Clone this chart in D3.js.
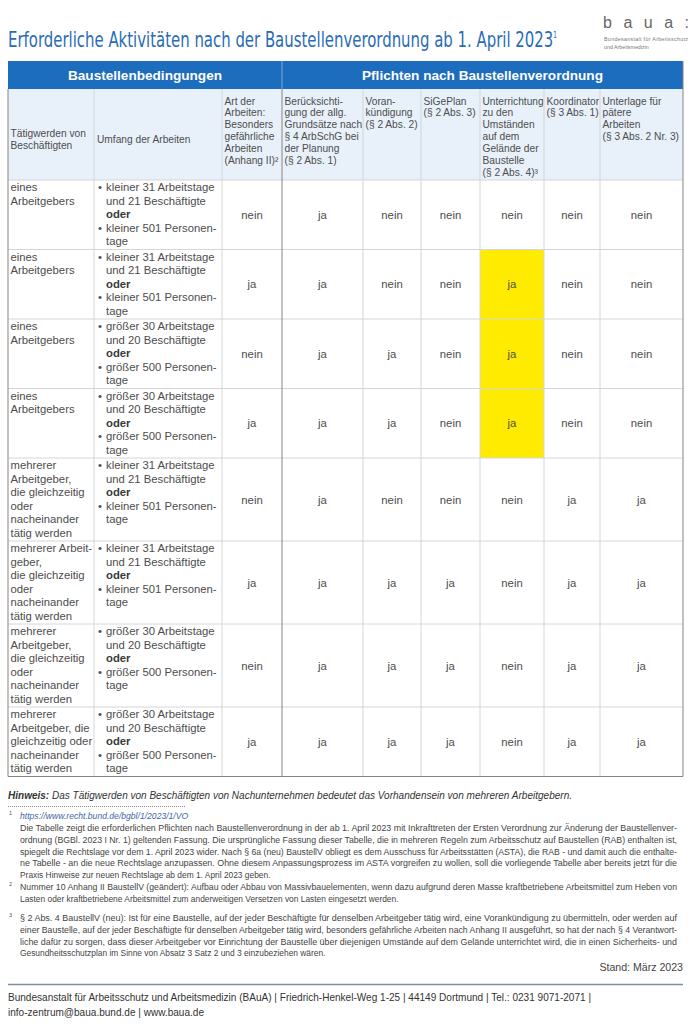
<!DOCTYPE html>
<html><head><meta charset="utf-8">
<script src="https://cdn.jsdelivr.net/npm/d3@7"></script>
<style>body{margin:0;background:#fff}svg{display:block}text{font-family:"Liberation Sans",Arial,sans-serif}</style>
</head><body><svg id="c" width="698" height="1024"></svg>
<script>
// ---------------- DATA ----------------
const title = "Erforderliche Aktivitäten nach der Baustellenverordnung ab 1. April 2023";
const groupHeaders = ["Baustellenbedingungen", "Pflichten nach Baustellenverordnung"];
const columnHeaders = [
  ["Tätigwerden von", "Beschäftigten"],
  ["Umfang der Arbeiten"],
  ["Art der", "Arbeiten:", "Besonders", "gefährliche", "Arbeiten", "(Anhang II)²"],
  ["Berücksichti-", "gung der allg.", "Grundsätze nach", "§ 4 ArbSchG bei", "der Planung", "(§ 2 Abs. 1)"],
  ["Voran-", "kündigung", "(§ 2 Abs. 2)"],
  ["SiGePlan", "(§ 2 Abs. 3)"],
  ["Unterrichtung", "zu den", "Umständen", "auf dem", "Gelände der", "Baustelle", "(§ 2 Abs. 4)³"],
  ["Koordinator", "(§ 3 Abs. 1)"],
  ["Unterlage für", "pätere", "Arbeiten", "(§ 3 Abs. 2 Nr. 3)"]
];
const taetigwerden = [
  ["eines", "Arbeitgebers"],
  ["eines", "Arbeitgebers"],
  ["eines", "Arbeitgebers"],
  ["eines", "Arbeitgebers"],
  ["mehrerer", "Arbeitgeber,", "die gleichzeitig", "oder", "nacheinander", "tätig werden"],
  ["mehrerer Arbeit-", "geber,", "die gleichzeitig", "oder", "nacheinander", "tätig werden"],
  ["mehrerer", "Arbeitgeber,", "die gleichzeitig", "oder", "nacheinander", "tätig werden"],
  ["mehrerer", "Arbeitgeber, die", "gleichzeitig oder", "nacheinander", "tätig werden"]
];
const umfang = ["klein", "klein", "groß", "groß", "klein", "klein", "groß", "groß"];
const umfangKlein = ["• kleiner 31 Arbeitstage", "und 21 Beschäftigte", "oder", "• kleiner 501 Personen-", "tage"];
const umfangGross = ["• größer 30 Arbeitstage", "und 20 Beschäftigte", "oder", "• größer 500 Personen-", "tage"];
const artGefaehrlich     = ["nein", "ja", "nein", "ja", "nein", "ja", "nein", "ja"];
const beruecksichtigung  = ["ja", "ja", "ja", "ja", "ja", "ja", "ja", "ja"];
const vorankuendigung    = ["nein", "nein", "ja", "ja", "nein", "ja", "ja", "ja"];
const sigeplan           = ["nein", "nein", "nein", "nein", "nein", "ja", "ja", "ja"];
const unterrichtung      = ["nein", "ja", "ja", "ja", "nein", "nein", "nein", "nein"];
const koordinator        = ["nein", "nein", "nein", "nein", "ja", "ja", "ja", "ja"];
const unterlage          = ["nein", "nein", "nein", "nein", "ja", "ja", "ja", "ja"];
const highlightedColumn = 6; // "Unterrichtung": new obligations marked in yellow

const hinweisBold = "Hinweis:";
const hinweisText = " Das Tätigwerden von Beschäftigten von Nachunternehmen bedeutet das Vorhandensein von mehreren Arbeitgebern.";
const fn1Link = "https://www.recht.bund.de/bgbl/1/2023/1/VO";
const fn1Lines = [
  "Die Tabelle zeigt die erforderlichen Pflichten nach Baustellenverordnung in der ab 1. April 2023 mit Inkrafttreten der Ersten Verordnung zur Änderung der Baustellenver-",
  "ordnung (BGBl. 2023 I Nr. 1) geltenden Fassung. Die ursprüngliche Fassung dieser Tabelle, die in mehreren Regeln zum Arbeitsschutz auf Baustellen (RAB) enthalten ist,",
  "spiegelt die Rechtslage vor dem 1. April 2023 wider. Nach § 6a (neu) BaustellV obliegt es dem Ausschuss für Arbeitsstätten (ASTA), die RAB - und damit auch die enthalte-",
  "ne Tabelle - an die neue Rechtslage anzupassen. Ohne diesem Anpassungsprozess im ASTA vorgreifen zu wollen, soll die vorliegende Tabelle aber bereits jetzt für die",
  "Praxis Hinweise zur neuen Rechtslage ab dem 1. April 2023 geben."
];
const fn2Lines = [
  "Nummer 10 Anhang II BaustellV (geändert): Aufbau oder Abbau von Massivbauelementen, wenn dazu aufgrund deren Masse kraftbetriebene Arbeitsmittel zum Heben von",
  "Lasten oder kraftbetriebene Arbeitsmittel zum anderweitigen Versetzen von Lasten eingesetzt werden."
];
const fn3Lines = [
  "§ 2 Abs. 4 BaustellV (neu): Ist für eine Baustelle, auf der jeder Beschäftigte für denselben Arbeitgeber tätig wird, eine Vorankündigung zu übermitteln, oder werden auf",
  "einer Baustelle, auf der jeder Beschäftigte für denselben Arbeitgeber  tätig wird, besonders gefährliche Arbeiten nach Anhang II ausgeführt, so hat der nach § 4 Verantwort-",
  "liche dafür zu sorgen, dass dieser Arbeitgeber vor Einrichtung der Baustelle über diejenigen Umstände auf dem Gelände unterrichtet wird, die in einen Sicherheits- und",
  "Gesundheitsschutzplan im Sinne von Absatz 3 Satz 2 und 3 einzubeziehen wären."
];
const stand = "Stand: März 2023";
const footerLines = [
  "Bundesanstalt für Arbeitsschutz und Arbeitsmedizin (BAuA) | Friedrich-Henkel-Weg 1-25 | 44149 Dortmund | Tel.: 0231 9071-2071 |",
  "info-zentrum@baua.bund.de | www.baua.de"
];

// ---------------- LAYOUT ----------------
const svg = d3.select("#c");
const BLUE = "#1d6dbe", TXT = "#4d4d4d", GRID = "#d3d6d9", STRONG = "#858585";
const colEdges = [8, 94, 222, 282, 363, 421, 480, 544, 600, 683];
const colIdx = d3.range(columnHeaders.length);
const xL = d3.scaleOrdinal().domain(colIdx).range(colEdges.slice(0, -1));
const xR = d3.scaleOrdinal().domain(colIdx).range(colEdges.slice(1));
const bandTop = 61, bandBot = 89, headBot = 180;
const LH = 13.5, BODY_FS = 11.3, HEAD_FS = 10.2, HEAD_LH = 11.9;

const valueCols = [artGefaehrlich, beruecksichtigung, vorankuendigung, sigeplan, unterrichtung, koordinator, unterlage];
const rows = taetigwerden.map((t, i) => ({
  i, taet: t,
  umf: umfang[i] === "klein" ? umfangKlein : umfangGross,
  vals: valueCols.map(c => c[i])
}));
rows.forEach(r => r.lines = Math.max(r.taet.length, r.umf.length));
const rowHeights = rows.map(r => r.lines * LH + 2);
const rowTops = rowHeights.reduce((a, h) => (a.push(a[a.length - 1] + h), a), [headBot]);
const yT = d3.scaleOrdinal().domain(rows.map(r => r.i)).range(rowTops.slice(0, -1));
const yB = d3.scaleOrdinal().domain(rows.map(r => r.i)).range(rowTops.slice(1));
const tableBot = rowTops[rowTops.length - 1];

// ---------------- TITLE & LOGO ----------------
const tt = svg.append("text").attr("x", 8).attr("y", 47).attr("fill", "#2a6cb6")
  .style("font-family", "'Liberation Sans Narrow','DejaVu Sans Condensed',sans-serif")
  .style("font-size", "20.5px").attr("textLength", 549).attr("lengthAdjust", "spacingAndGlyphs");
tt.append("tspan").text(title);
tt.append("tspan").attr("dy", -9).style("font-size", "8px").text("1");

svg.append("text").attr("x", 603).attr("y", 28).attr("fill", "#666")
  .style("font-size", "16px").attr("textLength", 86).attr("lengthAdjust", "spacing").text("baua:");
svg.append("text").attr("x", 604).attr("y", 41).attr("fill", "#777").style("font-size", "5.3px")
  .attr("textLength", 84).text("Bundesanstalt für Arbeitsschutz");
svg.append("text").attr("x", 604).attr("y", 48.5).attr("fill", "#777").style("font-size", "5.3px").text("und Arbeitsmedizin");

// ---------------- TABLE HEADERS ----------------
svg.append("rect").attr("x", 8).attr("y", bandTop).attr("width", 675).attr("height", bandBot - bandTop).attr("fill", BLUE);
svg.append("line").attr("x1", 282).attr("x2", 282).attr("y1", bandTop).attr("y2", bandBot).attr("stroke", "#7fa9d8").attr("stroke-width", 1);
const groupSpans = [[xL(0), xL(3)], [xL(3), xR(8)]];
svg.selectAll(".gh").data(groupHeaders).join("text")
  .attr("x", (d, i) => (groupSpans[i][0] + groupSpans[i][1]) / 2).attr("y", (bandTop + bandBot) / 2 + 5)
  .attr("text-anchor", "middle").attr("fill", "#fff").style("font-weight", "bold").style("font-size", "13.6px")
  .text(d => d);

svg.append("rect").attr("x", 8).attr("y", bandBot).attr("width", 675).attr("height", headBot - bandBot).attr("fill", "#e8f1fa");

columnHeaders.forEach((lines, c) => {
  const g = svg.append("text").attr("fill", TXT).style("font-size", HEAD_FS + "px");
  let y0;
  if (c === 0) y0 = 137;
  else if (c === 1) y0 = 143;
  else y0 = 104.5;
  g.selectAll("tspan").data(lines).join("tspan")
    .attr("x", xL(c) + (c === 1 ? 3 : 2.5)).attr("y", (d, k) => y0 + k * HEAD_LH).text(d => d);
});

// ---------------- BODY ----------------
rows.forEach(r => {
  r.vals.forEach((v, k) => {
    const c = k + 2;
    if (c === highlightedColumn && v === "ja") {
      svg.append("rect").attr("x", xL(c)).attr("y", yT(r.i)).attr("width", xR(c) - xL(c))
        .attr("height", yB(r.i) - yT(r.i)).attr("fill", "#ffeb00");
    }
  });
  const top = yT(r.i);
  svg.append("text").attr("fill", TXT).style("font-size", BODY_FS + "px")
    .selectAll("tspan").data(r.taet).join("tspan")
    .attr("x", xL(0) + 2.5).attr("y", (d, k) => top + 11 + k * LH).text(d => d);
  r.umf.forEach((line, k) => {
    const y = top + 11 + k * LH;
    const bullet = line.startsWith("• ");
    if (bullet) svg.append("text").attr("x", xL(1) + 4).attr("y", y).attr("fill", TXT).style("font-size", BODY_FS + "px").text("•");
    svg.append("text").attr("x", xL(1) + 12).attr("y", y).attr("fill", line === "oder" ? "#3a3a3a" : TXT)
      .style("font-size", BODY_FS + "px").style("font-weight", line === "oder" ? "bold" : "normal")
      .text(bullet ? line.slice(2) : line);
  });
  svg.selectAll(null).data(r.vals).join("text")
    .attr("x", (d, k) => (xL(k + 2) + xR(k + 2)) / 2)
    .attr("y", (yT(r.i) + yB(r.i)) / 2 + 4)
    .attr("text-anchor", "middle").attr("fill", TXT).style("font-size", BODY_FS + "px")
    .text(d => d);
});

// ---------------- GRID ----------------
const grid = svg.append("g");
[headBot, ...rowTops.slice(1, -1)].forEach(y =>
  grid.append("line").attr("x1", 8).attr("x2", 683).attr("y1", y).attr("y2", y).attr("stroke", GRID));
colEdges.slice(1, -1).forEach(x => {
  if (x === 282) return;
  grid.append("line").attr("x1", x).attr("x2", x).attr("y1", bandBot).attr("y2", tableBot).attr("stroke", GRID);
});
grid.append("line").attr("x1", 282).attr("x2", 282).attr("y1", bandBot).attr("y2", tableBot).attr("stroke", STRONG);
grid.append("line").attr("x1", 8).attr("x2", 8).attr("y1", bandBot).attr("y2", tableBot).attr("stroke", STRONG);
grid.append("line").attr("x1", 683).attr("x2", 683).attr("y1", bandTop).attr("y2", tableBot).attr("stroke", STRONG);
grid.append("line").attr("x1", 8).attr("x2", 683).attr("y1", tableBot).attr("y2", tableBot).attr("stroke", STRONG).attr("stroke-width", 1.2);

// ---------------- NOTES ----------------
const hin = svg.append("text").attr("x", 8).attr("y", 799).attr("fill", "#333").style("font-size", "10.4px")
  .style("font-style", "italic").attr("textLength", 564).attr("lengthAdjust", "spacingAndGlyphs");
hin.append("tspan").style("font-weight", "bold").text(hinweisBold);
hin.append("tspan").text(hinweisText);
svg.append("line").attr("x1", 8).attr("x2", 185).attr("y1", 806.5).attr("y2", 806.5)
  .attr("stroke", "#888").attr("stroke-dasharray", "1,1");

const FN_FS = "8.4px", FN_W = 657, FN_LH = 11.8;
function sup(n, y) {
  svg.append("text").attr("x", 9).attr("y", y).attr("fill", "#555").style("font-size", "5.5px").text(n);
}
function para(lines, y0) {
  lines.forEach((l, k) => {
    const t = svg.append("text").attr("x", 20).attr("y", y0 + k * FN_LH).attr("fill", "#444").style("font-size", FN_FS).text(l);
    if (k < lines.length - 1) t.attr("textLength", FN_W).attr("lengthAdjust", "spacingAndGlyphs");
  });
}
sup("1", 815);
svg.append("text").attr("x", 20).attr("y", 819).attr("fill", "#3f66a6").style("font-size", "8.6px").style("font-style", "italic").text(fn1Link);
para(fn1Lines, 831);
sup("2", 886);
para(fn2Lines, 890);
sup("3", 917);
para(fn3Lines, 921);

svg.append("text").attr("x", 683).attr("y", 971).attr("text-anchor", "end").attr("fill", "#444").style("font-size", "10.6px").text(stand);
svg.append("line").attr("x1", 8).attr("x2", 683).attr("y1", 984.5).attr("y2", 984.5).attr("stroke", "#7c8fa3").attr("stroke-width", 1.5);
footerLines.forEach((l, k) => {
  svg.append("text").attr("x", 8).attr("y", 1001 + k * 15).attr("fill", "#333").style("font-size", "11px")
    .attr("textLength", k === 0 ? 583 : 196).attr("lengthAdjust", "spacingAndGlyphs").text(l);
});
</script></body></html>
